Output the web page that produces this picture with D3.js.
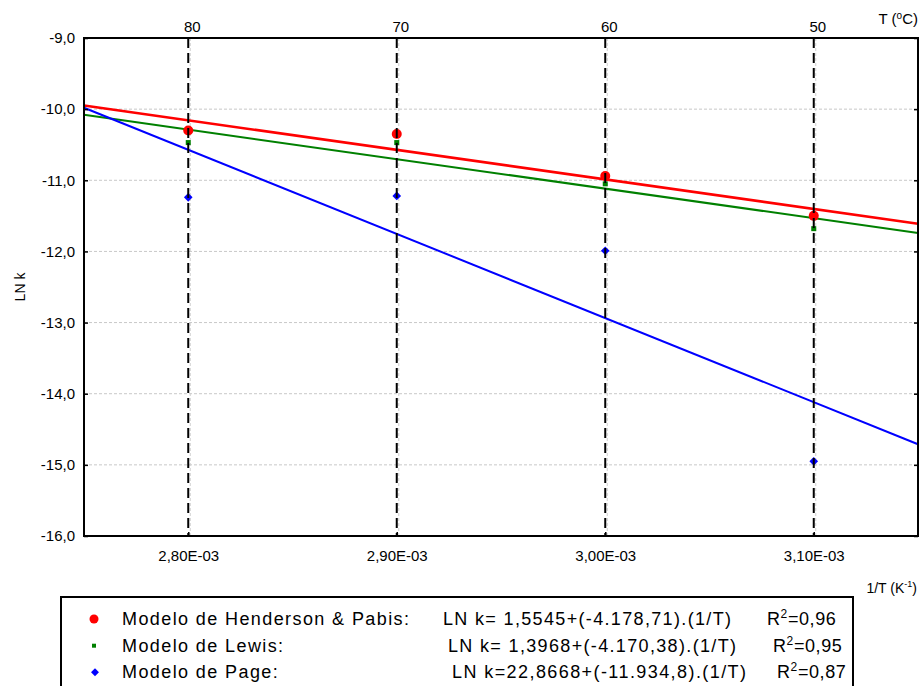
<!DOCTYPE html>
<html>
<head>
<meta charset="utf-8">
<script src="https://cdn.jsdelivr.net/npm/d3@7"></script>
<style>
  body { margin: 0; background: #fff; }
  svg { display: block; font-family: "Liberation Sans", Arial, sans-serif; }
</style>
</head>
<body>
<div id="chart"></div>
<script>
// data
var invT = [0.0028, 0.0029, 0.0030, 0.0031];
var invTLabels = ["2,80E-03", "2,90E-03", "3,00E-03", "3,10E-03"];
var tempLabels = ["80", "70", "60", "50"];
var yTicks = [-16, -15, -14, -13, -12, -11, -10, -9];

var henderson = [-10.30, -10.35, -10.94, -11.50];
var lewis = [-10.47, -10.47, -11.05, -11.68];
var page = [-11.24, -11.22, -11.99, -14.95];

// fitted lines, value at each end of the x domain
var lineX = [0.00275, 0.00315];
var hendersonFit = [-9.95, -11.61];
var lewisFit = [-10.08, -11.74];
var pageFit = [-9.98, -14.71];

var legendNames = ["Modelo de Henderson & Pabis:", "Modelo de Lewis:", "Modelo de Page:"];
var legendEq = ["LN k= 1,5545+(-4.178,71).(1/T)", "LN k= 1,3968+(-4.170,38).(1/T)", "LN k=22,8668+(-11.934,8).(1/T)"];
var legendR2 = ["=0,96", "=0,95", "=0,87"];

var width = 920, height = 686;
var margin = {top: 38, right: 2, bottom: 150, left: 84};

var svg = d3.select("#chart").append("svg")
    .attr("width", width)
    .attr("height", height);

var x = d3.scaleLinear()
    .domain([0.00275, 0.00315])
    .range([margin.left, width - margin.right]);

var y = d3.scaleLinear()
    .domain([-16, -9])
    .range([height - margin.bottom, margin.top]);

// grid
svg.append("g")
  .selectAll("line")
  .data(yTicks)
  .enter().append("line")
    .attr("x1", x.range()[0])
    .attr("x2", x.range()[1])
    .attr("y1", function(d) { return y(d); })
    .attr("y2", function(d) { return y(d); })
    .attr("stroke", "#c8c8c8")
    .attr("stroke-dasharray", "3,2");

svg.append("g")
  .selectAll("line")
  .data(invT)
  .enter().append("line")
    .attr("x1", function(d) { return x(d) + 2; })
    .attr("x2", function(d) { return x(d) + 2; })
    .attr("y1", y.range()[0])
    .attr("y2", y.range()[1])
    .attr("stroke", "#d0d0d0")
    .attr("stroke-dasharray", "3,2");

// regression lines
var fits = [
  {vals: hendersonFit, color: "#ff0000", w: 2.6},
  {vals: lewisFit, color: "#008000", w: 2},
  {vals: pageFit, color: "#0000ff", w: 2}
];
svg.append("g")
  .selectAll("line")
  .data(fits)
  .enter().append("line")
    .attr("x1", x(lineX[0]))
    .attr("x2", x(lineX[1]))
    .attr("y1", function(d) { return y(d.vals[0]); })
    .attr("y2", function(d) { return y(d.vals[1]); })
    .attr("stroke", function(d) { return d.color; })
    .attr("stroke-width", function(d) { return d.w; });

// points
svg.append("g")
  .selectAll("circle")
  .data(henderson)
  .enter().append("circle")
    .attr("cx", function(d, i) { return x(invT[i]); })
    .attr("cy", function(d) { return y(d); })
    .attr("r", 5)
    .attr("fill", "#ff0000");

svg.append("g")
  .selectAll("rect")
  .data(lewis)
  .enter().append("rect")
    .attr("x", function(d, i) { return x(invT[i]) - 2.5; })
    .attr("y", function(d) { return y(d) - 2.5; })
    .attr("width", 5)
    .attr("height", 5)
    .attr("fill", "#008000");

var diamond = d3.symbol().type(d3.symbolDiamond2).size(48);
svg.append("g")
  .selectAll("path")
  .data(page)
  .enter().append("path")
    .attr("d", diamond)
    .attr("transform", function(d, i) { return "translate(" + x(invT[i]) + "," + y(d) + ")"; })
    .attr("fill", "#0000ff");

// dashed temperature lines
svg.append("g")
  .selectAll("line")
  .data(invT)
  .enter().append("line")
    .attr("x1", function(d) { return x(d); })
    .attr("x2", function(d) { return x(d); })
    .attr("y1", y.range()[1])
    .attr("y2", y.range()[0])
    .attr("stroke", "#000")
    .attr("stroke-width", 2)
    .attr("stroke-dasharray", "10,5");

// frame
svg.append("rect")
    .attr("x", x.range()[0])
    .attr("y", y.range()[1])
    .attr("width", x.range()[1] - x.range()[0])
    .attr("height", y.range()[0] - y.range()[1])
    .attr("fill", "none")
    .attr("stroke", "#000")
    .attr("stroke-width", 2);

// left axis
var yAxis = svg.append("g")
    .attr("transform", "translate(" + margin.left + ",0)")
    .call(d3.axisRight(y).tickValues(yTicks).tickSize(4)
      .tickFormat(function(d) { return d3.format(".1f")(d).replace(".", ",").replace("\u2212", "-"); }));
yAxis.select(".domain").remove();
yAxis.selectAll("line").attr("stroke-width", 1.5);
yAxis.selectAll("text")
    .attr("x", -9)
    .attr("text-anchor", "end")
    .attr("font-size", 15)
    .attr("font-family", "Liberation Sans, Arial, sans-serif");

// right axis ticks
var yAxisR = svg.append("g")
    .attr("transform", "translate(" + (width - margin.right) + ",0)")
    .call(d3.axisLeft(y).tickValues(yTicks).tickSize(4).tickFormat(""));
yAxisR.select(".domain").remove();
yAxisR.selectAll("line").attr("stroke-width", 1.5);

// bottom axis
var xAxis = svg.append("g")
    .attr("transform", "translate(0," + (height - margin.bottom) + ")")
    .call(d3.axisTop(x).tickValues(invT).tickSize(4)
      .tickFormat(function(d, i) { return invTLabels[i]; }));
xAxis.select(".domain").remove();
xAxis.selectAll("line").attr("stroke-width", 1.5);
xAxis.selectAll("text")
    .attr("y", 25)
    .attr("dy", 0)
    .attr("font-size", 15)
    .attr("font-family", "Liberation Sans, Arial, sans-serif");

// top temperature labels
svg.append("g")
  .selectAll("text")
  .data(tempLabels)
  .enter().append("text")
    .attr("x", function(d, i) { return x(invT[i]) + 4; })
    .attr("y", 32)
    .attr("text-anchor", "middle")
    .attr("font-size", 15)
    .text(function(d) { return d; });

var tLab = svg.append("text")
    .attr("x", 918)
    .attr("y", 24)
    .attr("text-anchor", "end")
    .attr("font-size", 15);
tLab.append("tspan").text("T (");
tLab.append("tspan").attr("font-size", 10).attr("dy", -5).text("o");
tLab.append("tspan").attr("dy", 5).text("C)");

var kLab = svg.append("text")
    .attr("x", 917)
    .attr("y", 593)
    .attr("text-anchor", "end")
    .attr("font-size", 14);
kLab.append("tspan").text("1/T (K");
kLab.append("tspan").attr("font-size", 9).attr("dy", -6).text("-1");
kLab.append("tspan").attr("dy", 6).text(")");

svg.append("text")
    .attr("transform", "translate(25," + y(-12.5) + ") rotate(-90)")
    .attr("text-anchor", "middle")
    .attr("font-size", 14)
    .text("LN k");

// legend
var legend = svg.append("g");
legend.append("rect")
    .attr("x", 61)
    .attr("y", 597)
    .attr("width", 792)
    .attr("height", 120)
    .attr("fill", "#fff")
    .attr("stroke", "#000")
    .attr("stroke-width", 2);

var rowY = [619, 645.7, 672.3];
var eqX = [443, 448, 452];
var eqW = [288, 288, 294];
var r2X = [767, 773, 777];

legend.append("circle").attr("cx", 94).attr("cy", rowY[0]).attr("r", 4.5).attr("fill", "#ff0000");
legend.append("rect").attr("x", 92).attr("y", rowY[1] - 2).attr("width", 4).attr("height", 4).attr("fill", "#008000");
legend.append("path").attr("d", d3.symbol().type(d3.symbolDiamond2).size(40))
    .attr("transform", "translate(95," + rowY[2] + ")").attr("fill", "#0000ff");

legend.selectAll(".name")
  .data(legendNames)
  .enter().append("text")
    .attr("class", "name")
    .attr("x", 122)
    .attr("y", function(d, i) { return rowY[i] + 6; })
    .attr("font-size", 18)
    .attr("letter-spacing", 1.4)
    .text(function(d) { return d; });

legend.selectAll(".eq")
  .data(legendEq)
  .enter().append("text")
    .attr("class", "eq")
    .attr("x", function(d, i) { return eqX[i]; })
    .attr("y", function(d, i) { return rowY[i] + 6; })
    .attr("font-size", 18)
    .attr("textLength", function(d, i) { return eqW[i]; })
    .attr("lengthAdjust", "spacing")
    .text(function(d) { return d; });

legendR2.forEach(function(d, i) {
  var t = legend.append("text")
      .attr("x", r2X[i])
      .attr("y", rowY[i] + 6)
      .attr("font-size", 18)
      .attr("letter-spacing", 0.6);
  t.append("tspan").text("R");
  t.append("tspan").attr("font-size", 12).attr("dy", -7).text("2");
  t.append("tspan").attr("dy", 7).text(d);
});
</script>
</body>
</html>
